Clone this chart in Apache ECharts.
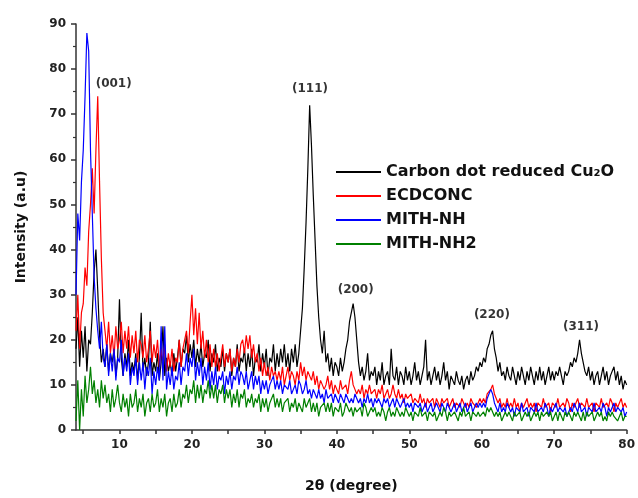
<!DOCTYPE html>
<html>
<head>
<meta charset="utf-8">
<script src="https://cdn.jsdelivr.net/npm/echarts@6/dist/echarts.min.js"></script>
<style>html,body{margin:0;padding:0;background:#fff;}#c{width:638px;height:498px;}</style>
</head>
<body>
<div id="c"></div>
<script>
// 2θ grid: start and step of the recorded scan (values below are read at each step)
const START = 4, STEP = 0.25;
const seriesNames = ['Carbon dot reduced Cu\u2082O', 'ECDCONC', 'MITH-NH', 'MITH-NH2'];
const colors = ['#000000', '#ff0000', '#0000ff', '#008000'];

const cu2o = [
18,25,14,22, 16,23,13,20, 19,26,35,40, 31,21,15,18, 14,19,13,17, 15,18,12,16,
29,16,12,17, 14,20,12,15, 13,17,11,16, 26,13,16,12, 15,24,12,15, 13,17,11,15,
23,12,16,13, 15,12,17,13, 16,20,14,18, 17,21,15,19, 16,20,14,18, 15,19,14,17,
16,20,13,17, 15,19,13,16, 14,18,13,17, 15,18,12,16, 14,19,13,16, 15,18,13,17,
14,18,12,16, 15,19,13,17, 14,18,12,16, 15,19,13,17, 14,18,15,19, 14,17,13,18,
15,19,14,17, 22,27,36,46, 58,72,63,52, 42,32,25,20, 17,22,15,17, 13,16,12,15,
14,12,16,13, 15,18,20,24, 26,28,25,20, 15,12,14,11, 13,17,11,13, 12,14,10,13,
11,15,10,12, 13,10,18,12, 11,14,10,13, 12,10,14,11, 13,10,12,15, 11,13,10,12,
14,20,11,13, 10,12,14,11, 13,10,12,15, 11,13,9,12, 12,10,13,11, 10,12,9,11,
12,10,13,11, 12,14,13,15, 14,16,15,18, 19,21,22,18, 16,13,15,12, 13,11,14,12,
11,14,12,10, 13,11,14,12, 10,13,11,14, 12,10,13,11, 14,11,13,10, 12,14,11,13,
11,13,12,14, 12,10,13,12, 13,15,14,16, 15,17,20,17, 15,13,12,14, 11,13,10,12,
13,10,12,14, 11,13,10,12, 12,14,11,13, 10,12,9,11, 10];

const ecdconc = [
22,30,18,26, 28,36,32,44, 50,58,48,62, 74,55,38,26, 22,18,24,17, 21,16,23,18,
20,24,17,22, 18,23,16,21, 17,22,15,20, 19,16,21,15, 18,22,15,19, 16,20,14,18,
15,19,13,17, 14,18,13,16, 15,20,14,18, 18,22,17,24, 30,21,27,19, 26,18,22,16,
20,15,19,14, 18,14,17,13, 16,19,14,17, 15,18,13,16, 14,18,15,19, 20,17,21,18,
21,16,19,15, 17,13,16,12, 15,12,14,11, 14,12,13,11, 13,11,14,10, 12,14,11,13,
12,10,13,11, 15,12,14,11, 13,12,11,13, 10,12,9,11, 11,9,10,12, 9,11,8,10,
10,8,11,9, 9,10,8,11, 13,10,9,8, 9,8,10,7, 9,8,10,8, 8,9,7,9,
8,10,7,8, 9,7,8,10, 8,7,9,7, 8,6,8,7, 7,8,6,7, 7,6,8,6,
7,5,7,6, 6,7,5,7, 6,5,7,6, 6,7,5,6, 7,5,6,6, 5,7,6,5,
6,5,7,6, 6,5,6,7, 6,7,6,8, 8,9,10,8, 7,6,7,5, 6,5,7,5,
6,5,7,5, 6,4,6,5, 5,7,5,6, 5,6,4,6, 6,5,7,5, 5,6,4,6,
6,5,7,5, 5,6,5,7, 6,4,6,5, 5,7,5,6, 6,5,7,5, 5,6,4,6,
6,5,7,5, 5,6,5,7, 6,4,6,5, 5,7,5,6, 5];

const mithNH = [
30,48,42,55, 62,74,88,84, 62,48,34,27, 22,18,24,16, 14,19,12,17, 13,18,11,16,
15,20,12,16, 13,17,10,14, 12,16,10,15, 11,15,9,14, 12,16,8,13, 10,14,11,23,
11,23,9,13, 10,14,9,12, 11,15,10,14, 13,17,12,16, 14,18,11,15, 12,16,10,14,
11,15,9,13, 10,14,9,12, 11,13,8,12, 10,13,9,12, 11,14,10,13, 12,10,13,9,
11,13,9,12, 10,12,8,11, 9,11,8,10, 10,12,9,11, 9,11,8,10, 10,9,11,8,
9,10,8,11, 10,8,9,11, 8,9,7,9, 8,7,9,7, 8,6,9,7, 7,8,6,8,
7,6,8,7, 6,8,7,6, 7,6,8,7, 6,7,5,7, 6,8,6,7, 5,7,6,7,
6,5,7,6, 7,5,6,7, 5,7,6,5, 6,7,5,6, 5,6,4,6, 6,5,6,4,
5,6,4,5, 6,4,5,6, 5,4,6,5, 4,6,5,4, 5,6,4,5, 6,4,5,6,
4,5,6,4, 5,6,5,6, 5,6,5,7, 7,9,8,6, 5,4,6,4, 5,4,6,5,
4,5,3,5, 5,4,6,4, 4,5,3,5, 5,4,6,4, 4,5,4,6, 5,3,5,4,
4,6,4,5, 5,4,5,3, 4,5,4,6, 5,4,6,4, 4,5,3,5, 5,4,6,4,
4,5,4,6, 5,3,5,4, 4,6,4,5, 5,4,5,3, 4];

const mithNH2 = [
2,11,0,9, 3,12,6,9, 14,8,11,6, 9,5,11,7, 10,6,8,4, 9,5,7,10,
6,4,8,5, 7,3,8,5, 6,9,4,7, 5,8,3,6, 7,4,8,5, 6,9,4,7,
5,8,3,6, 7,4,8,5, 6,9,5,8, 7,10,6,9, 8,11,6,10, 7,10,6,9,
8,11,7,10, 7,10,6,9, 8,10,6,9, 7,9,5,8, 6,9,5,8, 7,9,5,7,
6,8,5,7, 6,8,4,7, 5,7,4,6, 6,8,5,7, 5,7,4,6, 6,7,4,6,
5,7,4,6, 6,4,7,5, 5,7,4,6, 4,6,3,5, 5,6,4,6, 4,6,3,5,
5,4,6,3, 4,6,5,4, 5,3,5,4, 4,5,3,6, 5,3,4,5, 4,5,3,4,
3,5,4,2, 4,5,3,4, 3,5,4,3, 4,3,5,4, 3,4,2,4, 4,3,5,3,
3,4,2,4, 4,3,4,2, 3,4,3,5, 4,2,4,3, 3,4,3,2, 4,3,5,3,
3,4,2,4, 4,3,4,3, 3,4,3,5, 4,5,4,3, 4,3,4,2, 3,4,3,4,
4,2,4,3, 3,4,2,3, 4,3,4,2, 3,4,3,4, 2,4,3,3, 4,3,4,2,
3,4,2,4, 3,2,4,3, 4,3,2,4, 3,4,3,2, 4,2,4,3, 3,4,2,3,
4,3,4,2, 3,2,4,3, 4,3,3,2, 3,4,2,3, 3];

// Peak (hkl) annotations: label, 2θ, intensity where the label sits
const peakLabels = ['(001)', '(111)', '(200)', '(220)', '(311)'];
const peakTheta = [9.2, 36.3, 42.6, 61.4, 73.7];
const peakLabelY = [76.8, 75.7, 31, 25.5, 22.8];

const xLabelValues = [10, 20, 30, 40, 50, 60, 70, 80];
const xTickValues = [5, 10, 15, 20, 25, 30, 35, 40, 45, 50, 55, 60, 65, 70, 75, 80];

const FONT = 'DejaVu Sans';
const toPairs = arr => arr.map((v, i) => [START + i * STEP, v]);
const allData = [cu2o, ecdconc, mithNH, mithNH2];

const series = allData.map((d, k) => ({
  name: seriesNames[k],
  type: 'line',
  data: toPairs(d),
  showSymbol: false,
  symbol: 'none',
  sampling: null,
  lineStyle: { color: colors[k], width: 1.2 },
  itemStyle: { color: colors[k] },
  emphasis: { disabled: true },
  silent: true,
  z: 2 + k
}));

series.push({
  type: 'scatter',
  name: 'peaks',
  symbolSize: 1,
  itemStyle: { color: 'rgba(0,0,0,0)' },
  data: peakLabels.map((t, i) => [peakTheta[i], peakLabelY[i], t]),
  label: {
    show: true, position: 'inside',
    formatter: p => p.data[2],
    fontFamily: FONT, fontWeight: 'bold', fontSize: 12, color: '#000'
  },
  silent: true, z: 10
});

const chart = echarts.init(document.getElementById('c'), null, { renderer: 'canvas' });
chart.setOption({
  animation: false,
  backgroundColor: '#ffffff',
  grid: { left: 76, right: 5, top: 24, bottom: 64, containLabel: false },
  legend: {
    data: seriesNames,
    orient: 'vertical',
    left: 331, top: 158,
    itemWidth: 45, itemHeight: 2, itemGap: 6,
    icon: 'rect',
    textStyle: { fontFamily: FONT, fontWeight: 'bold', fontSize: 16, color: '#111', lineHeight: 18 },
    selectedMode: false
  },
  xAxis: {
    type: 'value', min: 4, max: 80,
    name: '2\u03B8 (degree)', nameLocation: 'middle', nameGap: 49,
    nameTextStyle: { fontFamily: FONT, fontWeight: 'bold', fontSize: 14, color: '#111' },
    axisLine: { show: true, onZero: false, lineStyle: { color: '#333', width: 1.5 } },
    axisTick: { show: true, customValues: xTickValues, length: 4, lineStyle: { color: '#333', width: 1.5 } },
    axisLabel: { customValues: xLabelValues, margin: 9, fontFamily: FONT, fontWeight: 'bold', fontSize: 12, color: '#222' },
    splitLine: { show: false }
  },
  yAxis: {
    type: 'value', min: 0, max: 90, interval: 10,
    name: 'Intensity (a.u)', nameLocation: 'middle', nameGap: 48,
    nameTextStyle: { fontFamily: FONT, fontWeight: 'bold', fontSize: 14, color: '#111' },
    axisLine: { show: true, lineStyle: { color: '#333', width: 1.5 } },
    axisTick: { show: true, length: 5, lineStyle: { color: '#333', width: 1.5 } },
    minorTick: { show: true, splitNumber: 2, length: 3, lineStyle: { color: '#333', width: 1.2 } },
    axisLabel: { margin: 10, fontFamily: FONT, fontWeight: 'bold', fontSize: 12, color: '#222' },
    splitLine: { show: false }
  },
  series: series
});
</script>
</body>
</html>
